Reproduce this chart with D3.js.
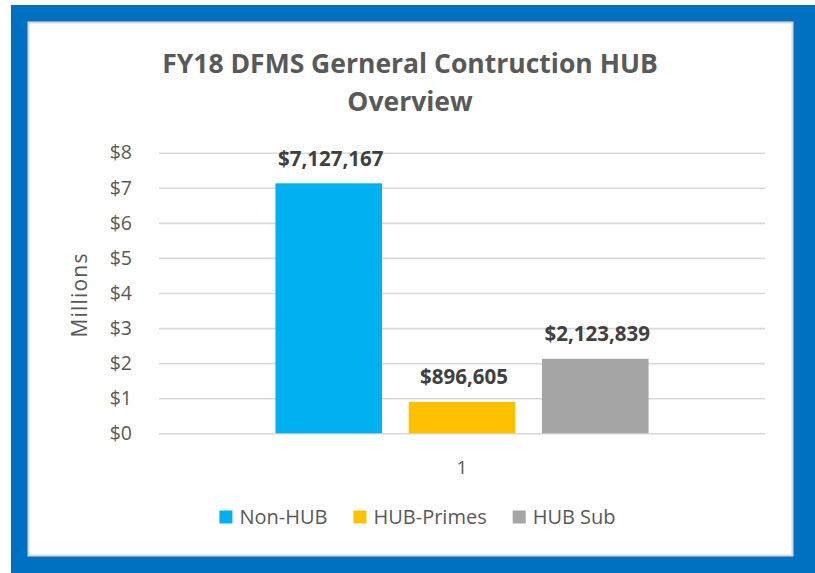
<!DOCTYPE html>
<html><head><meta charset="utf-8">
<script src="https://cdn.jsdelivr.net/npm/d3@7"></script>
<style>html,body{margin:0;padding:0;background:#fff;} svg{display:block;}</style>
</head><body>
<svg id="chart" width="815" height="573"></svg>
<script>
const titleLines = ["FY18 DFMS Gerneral Contruction HUB", "Overview"];
const categories = ["1"];
const seriesNames = ["Non-HUB", "HUB-Primes", "HUB Sub"];
const seriesValues = [7127167, 896605, 2123839];
const seriesColors = ["#00B0F0", "#FFC000", "#A5A5A5"];
const yTicks = [0, 1, 2, 3, 4, 5, 6, 7, 8];
const yAxisTitle = "Millions";

const svg = d3.select("#chart");
const font = "'Open Sans', 'Noto Sans', sans-serif";
const textColor = "#595959";

// frame
svg.append("rect").attr("x", 11).attr("y", 5).attr("width", 804).attr("height", 568).attr("fill", "#0070C0");
svg.append("rect").attr("x", 28.5).attr("y", 22.5).attr("width", 764).attr("height", 533)
  .attr("fill", "#fff").attr("stroke", "#d9d9d9").attr("stroke-width", 2);

// title
svg.append("g").selectAll("text").data(titleLines).join("text")
  .attr("x", 410).attr("y", (d, i) => 72.5 + i * 38.5)
  .attr("text-anchor", "middle")
  .attr("font-family", font).attr("font-weight", "bold").attr("font-size", 26.5)
  .attr("fill", textColor).text(d => d);

const plot = {left: 159, right: 765, top: 152.7, bottom: 433.3};
const y = d3.scaleLinear().domain([0, 8]).range([plot.bottom, plot.top]);
const x0 = d3.scaleBand().domain(categories).range([plot.left, plot.right]).paddingInner(0).paddingOuter(0.312);
const x1 = d3.scaleBand().domain(seriesNames).range([0, x0.bandwidth()]).paddingInner(0.2).paddingOuter(0);

// gridlines
const yAxis = d3.axisLeft(y).tickValues(yTicks).tickFormat(d => "$" + d)
  .tickSize(-(plot.right - plot.left)).tickPadding(27);
const gy = svg.append("g").attr("transform", `translate(${plot.left},0)`).call(yAxis);
gy.select(".domain").remove();
gy.selectAll(".tick line").attr("stroke", "#d9d9d9").attr("stroke-width", 1.6);
gy.selectAll(".tick text").attr("font-family", font).attr("font-size", 19.5).attr("fill", textColor);

// y axis title
svg.append("text").attr("transform", "translate(87,295) rotate(-90)")
  .attr("text-anchor", "middle").attr("font-family", font).attr("font-size", 21)
  .attr("letter-spacing", 1.2).attr("fill", textColor).text(yAxisTitle);

// bars
const data = seriesNames.map((s, i) => ({cat: categories[0], name: s, value: seriesValues[i] / 1e6, raw: seriesValues[i], color: seriesColors[i]}));
const g = svg.append("g");
g.selectAll("rect").data(data).join("rect")
  .attr("x", d => x0(d.cat) + x1(d.name))
  .attr("y", d => y(d.value))
  .attr("width", x1.bandwidth())
  .attr("height", d => y(0) - y(d.value))
  .attr("fill", d => d.color);

// data labels
const fmt = d3.format(",");
g.selectAll("text").data(data).join("text")
  .attr("x", d => x0(d.cat) + x1(d.name) + x1.bandwidth() / 2 + 2)
  .attr("y", d => y(d.value) - 17.5)
  .attr("text-anchor", "middle").attr("font-family", font).attr("font-weight", "bold")
  .attr("font-size", 20.5).attr("fill", "#404040")
  .text(d => "$" + fmt(d.raw));

// category axis label
const xAxis = d3.axisBottom(x0).tickSize(0).tickPadding(27);
const gx = svg.append("g").attr("transform", `translate(0,${plot.bottom})`).call(xAxis);
gx.select(".domain").remove();
gx.selectAll(".tick text").attr("font-family", font).attr("font-size", 19).attr("fill", textColor);

// legend
const legend = svg.append("g");
const items = legend.selectAll("g").data(data).join("g");
items.append("rect").attr("width", 13).attr("height", 13).attr("y", -6.5).attr("fill", d => d.color);
items.append("text").attr("x", 20).attr("y", 0).attr("dy", "0.35em")
  .attr("font-family", font).attr("font-size", 20).attr("fill", textColor).text(d => d.name);
let widths = [];
items.each(function() { widths.push(this.getBBox().width); });
const spacing = 26;
const total = d3.sum(widths) + spacing * (widths.length - 1);
let cx = 417.5 - total / 2;
items.attr("transform", (d, i) => { const t = `translate(${cx},517)`; cx += widths[i] + spacing; return t; });
</script>
</body></html>
